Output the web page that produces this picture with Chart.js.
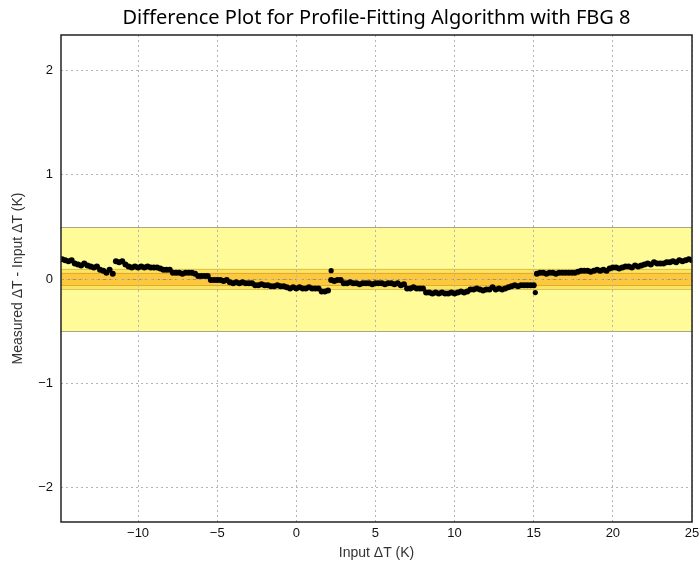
<!DOCTYPE html>
<html>
<head>
<meta charset="utf-8">
<script src="https://cdn.jsdelivr.net/npm/chart.js@4/dist/chart.umd.min.js"></script>
<style>
  html, body { margin: 0; padding: 0; background: #fff; }
  #wrap { width: 700px; height: 567px; }
</style>
</head>
<body>
<div id="wrap"><canvas id="diffChart" width="700" height="567"></canvas></div>
<script>
// input temperature change (K)
const inputDT = [
  -14.8, -14.6, -14.4, -14.2, -14.0, -13.8, -13.6, -13.4, -13.2, -13.0,
  -12.8, -12.6, -12.4, -12.2, -12.0, -11.8, -11.6, -11.4, -11.2, -11.0,
  -10.8, -10.6, -10.4, -10.2, -10.0, -9.8, -9.6, -9.4, -9.2, -9.0,
  -8.8, -8.6, -8.4, -8.2, -8.0, -7.8, -7.6, -7.4, -7.2, -7.0,
  -6.8, -6.6, -6.4, -6.2, -6.0, -5.8, -5.6, -5.4, -5.2, -5.0,
  -4.8, -4.6, -4.4, -4.2, -4.0, -3.8, -3.6, -3.4, -3.2, -3.0,
  -2.8, -2.6, -2.4, -2.2, -2.0, -1.8, -1.6, -1.4, -1.2, -1.0,
  -0.8, -0.6, -0.4, -0.2, 0.0, 0.2, 0.4, 0.6, 0.8, 1.0,
  1.2, 1.4, 1.6, 1.8, 2.0, 2.2, 2.4, 2.6, 2.8, 3.0,
  3.2, 3.4, 3.6, 3.8, 4.0, 4.2, 4.4, 4.6, 4.8, 5.0,
  5.2, 5.4, 5.6, 5.8, 6.0, 6.2, 6.4, 6.6, 6.8, 7.0,
  7.2, 7.4, 7.6, 7.8, 8.0, 8.2, 8.4, 8.6, 8.8, 9.0,
  9.2, 9.4, 9.6, 9.8, 10.0, 10.2, 10.4, 10.6, 10.8, 11.0,
  11.2, 11.4, 11.6, 11.8, 12.0, 12.2, 12.4, 12.6, 12.8, 13.0,
  13.2, 13.4, 13.6, 13.8, 14.0, 14.2, 14.4, 14.6, 14.8, 15.0,
  15.2, 15.4, 15.6, 15.8, 16.0, 16.2, 16.4, 16.6, 16.8, 17.0,
  17.2, 17.4, 17.6, 17.8, 18.0, 18.2, 18.4, 18.6, 18.8, 19.0,
  19.2, 19.4, 19.6, 19.8, 20.0, 20.2, 20.4, 20.6, 20.8, 21.0,
  21.2, 21.4, 21.6, 21.8, 22.0, 22.2, 22.4, 22.6, 22.8, 23.0,
  23.2, 23.4, 23.6, 23.8, 24.0, 24.2, 24.4, 24.6, 24.8, 25.0
];

// measured minus input (K)
const diffDT = [
  0.19, 0.18, 0.17, 0.18, 0.15, 0.14, 0.13, 0.15, 0.13, 0.12,
  0.11, 0.12, 0.09, 0.08, 0.06, 0.09, 0.05, 0.17, 0.16, 0.17,
  0.14, 0.12, 0.11, 0.12, 0.11, 0.12, 0.11, 0.12, 0.11, 0.11,
  0.11, 0.10, 0.09, 0.09, 0.09, 0.06, 0.06, 0.06, 0.05, 0.06,
  0.06, 0.06, 0.05, 0.03, 0.03, 0.03, 0.03, -0.01, -0.01, -0.01,
  -0.01, -0.02, -0.01, -0.03, -0.04, -0.03, -0.04, -0.03, -0.04, -0.04,
  -0.04, -0.06, -0.06, -0.05, -0.06, -0.06, -0.07, -0.07, -0.06, -0.07,
  -0.07, -0.08, -0.09, -0.08, -0.09, -0.08, -0.09, -0.09, -0.08, -0.09,
  -0.09, -0.09, -0.12, -0.12, -0.11, -0.01, -0.02, -0.01, -0.01, -0.04,
  -0.04, -0.03, -0.04, -0.04, -0.05, -0.04, -0.04, -0.04, -0.05, -0.04,
  -0.04, -0.04, -0.05, -0.04, -0.04, -0.05, -0.04, -0.06, -0.05, -0.09,
  -0.09, -0.08, -0.09, -0.09, -0.09, -0.13, -0.13, -0.14, -0.13, -0.14,
  -0.13, -0.14, -0.14, -0.13, -0.14, -0.13, -0.12, -0.13, -0.12, -0.10,
  -0.10, -0.09, -0.10, -0.11, -0.10, -0.10, -0.08, -0.10, -0.09, -0.10,
  -0.09, -0.08, -0.07, -0.06, -0.07, -0.06, -0.06, -0.06, -0.06, -0.06,
  0.05, 0.06, 0.06, 0.05, 0.06, 0.06, 0.05, 0.06, 0.06, 0.06,
  0.06, 0.06, 0.06, 0.07, 0.08, 0.08, 0.08, 0.07, 0.08, 0.09,
  0.08, 0.09, 0.08, 0.10, 0.11, 0.11, 0.10, 0.11, 0.12, 0.12,
  0.11, 0.13, 0.12, 0.13, 0.14, 0.15, 0.14, 0.16, 0.15, 0.15,
  0.15, 0.16, 0.16, 0.17, 0.16, 0.18, 0.17, 0.18, 0.19, 0.18
];

// two stray readings
const outlierInput = [2.2, 15.1];
const outlierDiff = [0.08, -0.13];

const xTicks = [-10, -5, 0, 5, 10, 15, 20, 25];
const yTicks = [-2, -1, 0, 1, 2];

// tolerance bands (K)
const outerBand = 0.5;
const midBand = 0.1;
const innerBand = 0.06;

const fmt = (v) => String(v).replace('-', '\u2212');

const toPoints = (xs, ys) => xs.map((x, i) => ({ x, y: ys[i] }));

const bandsPlugin = {
  id: 'bands',
  beforeDraw(chart) {
    const { ctx, chartArea: a, scales: { y } } = chart;
    const band = (lim, fill, edge) => {
      const top = y.getPixelForValue(lim);
      const bot = y.getPixelForValue(-lim);
      ctx.fillStyle = fill;
      ctx.fillRect(a.left, top, a.right - a.left, bot - top);
      ctx.strokeStyle = edge;
      ctx.lineWidth = 1;
      ctx.beginPath();
      ctx.moveTo(a.left, Math.round(top) + 0.5);
      ctx.lineTo(a.right, Math.round(top) + 0.5);
      ctx.moveTo(a.left, Math.round(bot) + 0.5);
      ctx.lineTo(a.right, Math.round(bot) + 0.5);
      ctx.stroke();
    };
    ctx.save();
    band(outerBand, '#fffb98', '#a9a58a');
    band(midBand, '#fde45e', '#d8c25a');
    band(innerBand, '#fcc93c', '#e0aa38');
    const zero = Math.round(y.getPixelForValue(0)) + 0.5;
    ctx.strokeStyle = '#c98a2a';
    ctx.setLineDash([3, 3]);
    ctx.beginPath();
    ctx.moveTo(a.left, zero);
    ctx.lineTo(a.right, zero);
    ctx.stroke();
    ctx.restore();
  },
  afterDraw(chart) {
    const { ctx, chartArea: a } = chart;
    ctx.save();
    ctx.strokeStyle = '#222';
    ctx.lineWidth = 1.5;
    ctx.strokeRect(a.left, a.top, a.right - a.left, a.bottom - a.top);
    ctx.restore();
  },
};

new Chart(document.getElementById('diffChart'), {
  type: 'scatter',
  data: {
    datasets: [
      {
        data: toPoints(inputDT, diffDT),
        backgroundColor: '#000',
        borderWidth: 0,
        pointRadius: 3,
      },
      {
        data: toPoints(outlierInput, outlierDiff),
        backgroundColor: '#000',
        borderWidth: 0,
        pointRadius: 2.6,
      },
    ],
  },
  options: {
    responsive: false,
    animation: false,
    layout: { padding: { left: 10, right: 8, top: 0, bottom: 5 } },
    plugins: {
      legend: { display: false },
      tooltip: { enabled: false },
      title: {
        display: true,
        text: 'Difference Plot for Profile-Fitting Algorithm with FBG 8',
        fullSize: false,
        color: '#000',
        font: { family: "'Liberation Sans Narrow', 'Noto Sans', sans-serif", size: 20, weight: 'normal' },
        padding: { top: 6, bottom: 5 },
      },
    },
    scales: {
      x: {
        type: 'linear',
        min: -14.87,
        max: 25,
        afterBuildTicks: (scale) => { scale.ticks = xTicks.map((value) => ({ value })); },
        afterFit: (scale) => { scale.height = 40; scale.paddingRight = 0; },
        ticks: {
          callback: fmt,
          color: '#111',
          font: { family: "'Liberation Sans', sans-serif", size: 13 },
          padding: 4,
          maxRotation: 0,
        },
        grid: { color: '#b5b5b5', drawTicks: false },
        border: { display: false, dash: [2, 3] },
        title: {
          display: true,
          text: 'Input \u0394T (K)',
          color: '#333',
          font: { family: "'Liberation Sans', sans-serif", size: 14 },
          padding: { top: 0, bottom: 0 },
        },
      },
      y: {
        type: 'linear',
        min: -2.33,
        max: 2.34,
        afterBuildTicks: (scale) => { scale.ticks = yTicks.map((value) => ({ value })); },
        afterFit: (scale) => { scale.width = 51; },
        ticks: {
          callback: fmt,
          color: '#111',
          font: { family: "'Liberation Sans', sans-serif", size: 13 },
          padding: 8,
        },
        grid: { color: '#b5b5b5', drawTicks: false },
        border: { display: false, dash: [2, 3] },
        title: {
          display: true,
          text: 'Measured \u0394T - Input \u0394T (K)',
          color: '#333',
          font: { family: "'Liberation Sans', sans-serif", size: 14 },
          padding: { top: 0, bottom: 4 },
        },
      },
    },
  },
  plugins: [bandsPlugin],
});
</script>
</body>
</html>
